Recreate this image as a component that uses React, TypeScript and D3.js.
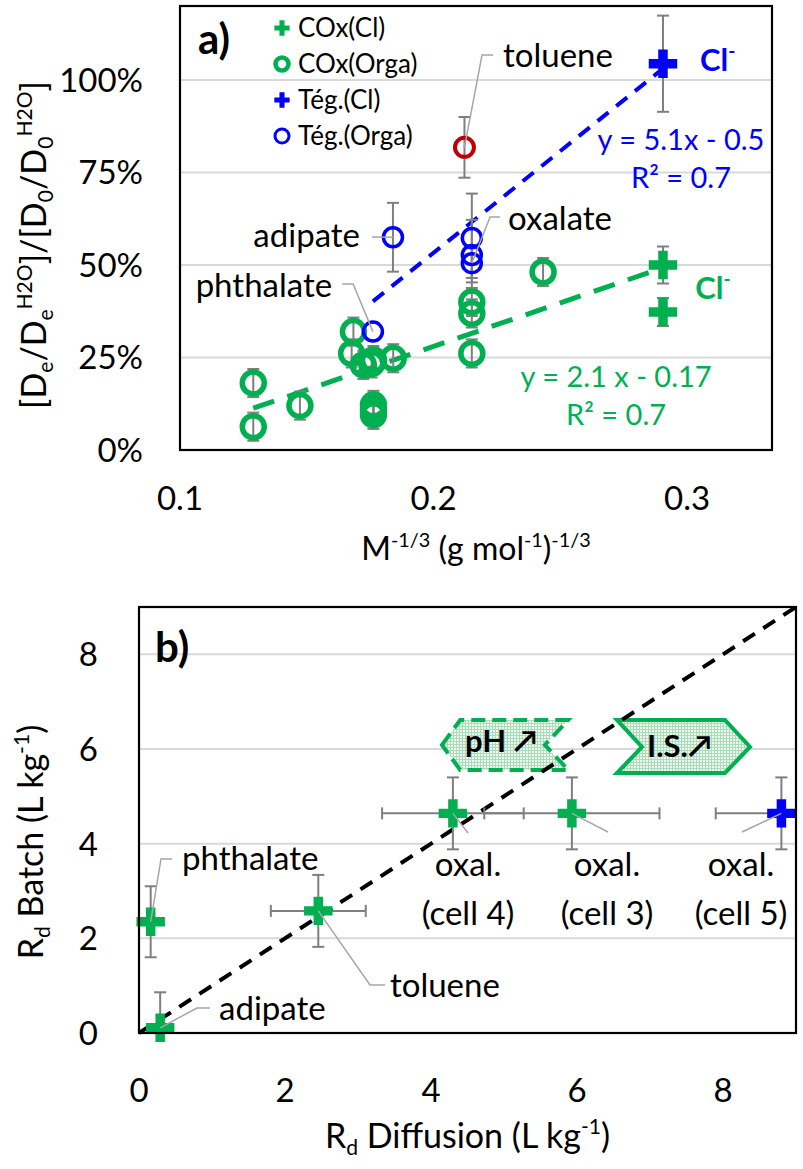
import React from "react";
import * as d3 from "d3";

const W = 803;
const H = 1169;
const FONT = "Lato, 'Open Sans', sans-serif";
const GREEN = "#00b050";
const BLUE = "#0000ff";
const RED = "#c00000";
const ERR = "#7f7f7f";
const LEAD = "#a6a6a6";
const GRID = "#d9d9d9";

// ---- panel a data ----
const aTicksX = [0.1, 0.2, 0.3];
const aTicksY = [0, 0.25, 0.5, 0.75, 1.0];
const aGrid = [0.25, 0.5, 0.75, 1.0];

const coxClX = [0.2905, 0.2905];
const coxClY = [0.5, 0.373];
const coxClErr = [0.05, 0.038];

const coxOrgX = [0.1289, 0.1289, 0.1473, 0.1684, 0.1677, 0.1723, 0.1756, 0.1763, 0.1841, 0.1763, 0.1763, 0.1763, 0.2151, 0.2151, 0.2151, 0.2432];
const coxOrgY = [0.181, 0.063, 0.12, 0.32, 0.261, 0.23, 0.234, 0.243, 0.248, 0.122, 0.108, 0.095, 0.4, 0.369, 0.261, 0.481];
const coxOrgErr = [0.038, 0.038, 0.038, 0.038, 0.038, 0.038, 0.038, 0.038, 0.038, 0.038, 0.038, 0.038, 0.038, 0.038, 0.038, 0.038];

const tegClX = [0.2905];
const tegClY = [1.044];
const tegClErr = [0.13];

const tegOrgX = [0.184, 0.1761, 0.2151, 0.2151, 0.2151];
const tegOrgY = [0.575, 0.32, 0.573, 0.527, 0.505];
const tegOrgErr = [0.093, 0, 0.12, 0.095, 0.04];

const tolX = [0.2122];
const tolY = [0.818];
const tolErr = [0.082];

// trend lines as drawn: [xStart, xEnd, slope, intercept]
const trendBlue = [0.1761, 0.2905, 5.5, -0.567];
const trendGreen = [0.1289, 0.2905, 2.35, -0.19];

const legendNames = ["COx(Cl)", "COx(Orga)", "Tég.(Cl)", "Tég.(Orga)"];

// ---- panel b data ----
const bTicks = [0, 2, 4, 6, 8];
const bGrid = [2, 4, 6, 8];
const bCoxX = [0.16, 0.29, 2.456, 4.3, 5.93];
const bCoxY = [2.35, 0.11, 2.58, 4.64, 4.64];
const bCoxXErr = [0, 0, 0.65, 0.97, 1.2];
const bCoxYErr = [0.75, 0.75, 0.76, 0.76, 0.76];
const bTegX = [8.8];
const bTegY = [4.64];
const bTegXErr = [0.9];
const bTegYErr = [0.76];

// annotation shapes (chart units)
const phShape = [[4.15, 6.085], [4.4, 6.613], [5.88, 6.613], [5.56, 6.085], [5.88, 5.557], [4.4, 5.557]];
const isShape = [[6.548, 6.613], [8.027, 6.613], [8.37, 6.043], [8.027, 5.493], [6.548, 5.493], [6.89, 6.043]];

// scales
const xA = d3.scaleLinear().domain([0.1, 0.3335]).range([180, 772]);
const yA = d3.scaleLinear().domain([0, 1.2]).range([450, 6]);
const xB = d3.scaleLinear().domain([0, 9]).range([139, 796]);
const yB = d3.scaleLinear().domain([0, 9]).range([1033, 607]);

const cross = d3.symbol().type(d3.symbolCross).size(450)();
const crossSmall = d3.symbol().type(d3.symbolCross).size(130)();

function Rich({ x, y, parts, fs, fill = "black", anchor = "start", weight = "normal", transform }) {
  let cur = 0;
  return (
    <text x={x} y={y} fontSize={fs} fill={fill} textAnchor={anchor} fontWeight={weight} transform={transform} fontFamily={FONT}>
      {parts.map(([t, k], i) => {
        const off = k === "sub" ? 0.22 * fs : k === "sup" ? -0.42 * fs : 0;
        const dy = off - cur;
        cur = off;
        return (
          <tspan key={i} dy={dy} fontSize={k === "n" ? fs : fs * 0.62}>
            {t}
          </tspan>
        );
      })}
    </text>
  );
}

function VErr({ x, y, e, sx, sy }) {
  if (!e) return null;
  const px = sx(x);
  const y0 = sy(y - e);
  const y1 = sy(y + e);
  return (
    <g stroke={ERR} strokeWidth={2}>
      <line x1={px} x2={px} y1={y0} y2={y1} />
      <line x1={px - 6} x2={px + 6} y1={y0} y2={y0} />
      <line x1={px - 6} x2={px + 6} y1={y1} y2={y1} />
    </g>
  );
}

function HErr({ x, y, e, sx, sy }) {
  if (!e) return null;
  const py = sy(y);
  const x0 = sx(x - e);
  const x1 = sx(x + e);
  return (
    <g stroke={ERR} strokeWidth={2}>
      <line x1={x0} x2={x1} y1={py} y2={py} />
      <line x1={x0} x2={x0} y1={py - 6} y2={py + 6} />
      <line x1={x1} x2={x1} y1={py - 6} y2={py + 6} />
    </g>
  );
}

function Trend({ t, color, width, dash }) {
  const [x0, x1, m, b] = t;
  const line = d3.line<number>().x((d) => xA(d)).y((d) => yA(m * d + b));
  return <path d={line([x0, x1]) || ""} stroke={color} strokeWidth={width} strokeDasharray={dash} fill="none" />;
}

const labelsA = [
  { text: "toluene", x: 0.2274, y: 1.035, anchor: "start", lead: [[-10, -12], [-21, -12]], tx: tolX[0], ty: tolY[0] },
  { text: "oxalate", x: 0.2294, y: 0.5946, anchor: "start", lead: [[-8, -13], [-18, -13]], tx: tegOrgX[4], ty: tegOrgY[4] },
  { text: "adipate", x: 0.171, y: 0.5486, anchor: "end", lead: [[12, -10]], tx: tegOrgX[0], ty: tegOrgY[0] },
  { text: "phthalate", x: 0.16, y: 0.4135, anchor: "end", lead: [[10, -13], [21, -13]], tx: tegOrgX[1], ty: tegOrgY[1] },
];

const labelsB = [
  { text: ["phthalate"], x: 0.589, y: 3.444, anchor: "start", lead: [[-10, -11], [-21, -11]], tx: bCoxX[0], ty: bCoxY[0] },
  { text: ["adipate"], x: 1.096, y: 0.275, anchor: "start", lead: [[-9, -12], [-22, -12]], tx: bCoxX[1], ty: bCoxY[1] },
  { text: ["toluene"], x: 3.438, y: 0.761, anchor: "start", lead: [[-5, -12], [-20, -12]], tx: bCoxX[2], ty: bCoxY[2] },
  { text: ["oxal.", "(cell 4)"], x: 4.507, y: 3.317, anchor: "middle", lead: [[0, -43]], tx: bCoxX[3], ty: bCoxY[3] },
  { text: ["oxal.", "(cell 3)"], x: 6.411, y: 3.317, anchor: "middle", lead: [[1, -44]], tx: bCoxX[4], ty: bCoxY[4] },
  { text: ["oxal.", "(cell 5)"], x: 8.247, y: 3.317, anchor: "middle", lead: [[1, -44]], tx: bTegX[0], ty: bTegY[0] },
];

function leaderPath(lx, ly, lead, tx, ty) {
  const pts = lead.map(([dx, dy]) => [lx + dx, ly + dy]);
  pts.push([tx, ty]);
  return d3.line()(pts as [number, number][]) || "";
}

export default function App() {
  const LFS = 33;
  const [ax0, ax1] = xA.range();
  const [ay0, ay1] = yA.range();
  const [bx0, bx1] = xB.range();
  const [by0, by1] = yB.range();
  const legendY = [28, 64, 100, 136];

  return (
    <svg width={W} height={H} style={{ position: "absolute", left: 0, top: 0, background: "white" }} fontFamily={FONT}>
      <defs>
        <pattern id="dots" width={3} height={3} patternUnits="userSpaceOnUse">
          <rect width={3} height={3} fill="#eef8f1" />
          <rect width={1} height={3} fill="#a9dcb8" />
          <rect width={3} height={1} fill="#a9dcb8" />
        </pattern>
        <clipPath id="clipA">
          <rect x={ax0} y={ay1} width={ax1 - ax0} height={ay0 - ay1} />
        </clipPath>
        <clipPath id="clipB">
          <rect x={bx0} y={by1} width={bx1 - bx0} height={by0 - by1} />
        </clipPath>
      </defs>

      {/* ===== panel a ===== */}
      {aGrid.map((v) => (
        <line key={v} x1={ax0} x2={ax1} y1={yA(v)} y2={yA(v)} stroke={GRID} strokeWidth={2} />
      ))}
      {aTicksY.map((v) => (
        <text key={v} x={ax0 - 37} y={yA(v)} dy="0.36em" textAnchor="end" fontSize={LFS}>
          {d3.format(".0%")(v)}
        </text>
      ))}
      {aTicksX.map((v) => (
        <text key={v} x={xA(v)} y={ay0 + 48} dy="0.36em" textAnchor="middle" fontSize={LFS}>
          {d3.format(".1f")(v)}
        </text>
      ))}

      <Trend t={trendBlue} color={BLUE} width={4} dash="14 10" />
      <Trend t={trendGreen} color={GREEN} width={5} dash="22 14" />

      <g clipPath="url(#clipA)">
        {coxOrgX.map((x, i) => (
          <VErr key={"ce" + i} x={x} y={coxOrgY[i]} e={coxOrgErr[i]} sx={xA} sy={yA} />
        ))}
        {tegOrgX.map((x, i) => (
          <VErr key={"te" + i} x={x} y={tegOrgY[i]} e={tegOrgErr[i]} sx={xA} sy={yA} />
        ))}
        {tolX.map((x, i) => (
          <VErr key={"to" + i} x={x} y={tolY[i]} e={tolErr[i]} sx={xA} sy={yA} />
        ))}
        {coxClX.map((x, i) => (
          <VErr key={"cc" + i} x={x} y={coxClY[i]} e={coxClErr[i]} sx={xA} sy={yA} />
        ))}
        {tegClX.map((x, i) => (
          <VErr key={"tc" + i} x={x} y={tegClY[i]} e={tegClErr[i]} sx={xA} sy={yA} />
        ))}
      </g>

      {coxOrgX.map((x, i) => (
        <circle key={"co" + i} cx={xA(x)} cy={yA(coxOrgY[i])} r={11} fill="none" stroke={GREEN} strokeWidth={5.5} />
      ))}
      {tegOrgX.map((x, i) => (
        <circle key={"to" + i} cx={xA(x)} cy={yA(tegOrgY[i])} r={9.5} fill="none" stroke={BLUE} strokeWidth={3.5} />
      ))}
      {tolX.map((x, i) => (
        <circle key={"tl" + i} cx={xA(x)} cy={yA(tolY[i])} r={9.5} fill="none" stroke={RED} strokeWidth={4} />
      ))}
      {coxClX.map((x, i) => (
        <path key={"cx" + i} d={cross} transform={`translate(${xA(x)},${yA(coxClY[i])})`} fill={GREEN} />
      ))}
      {tegClX.map((x, i) => (
        <path key={"tx" + i} d={cross} transform={`translate(${xA(x)},${yA(tegClY[i])})`} fill={BLUE} />
      ))}

      {labelsA.map((l) => (
        <g key={l.text}>
          <path d={leaderPath(xA(l.x), yA(l.y), l.lead, xA(l.tx), yA(l.ty))} stroke={LEAD} strokeWidth={1.5} fill="none" />
          <text x={xA(l.x)} y={yA(l.y)} textAnchor={l.anchor} fontSize={LFS}>
            {l.text}
          </text>
        </g>
      ))}

      <Rich x={xA(0.3051)} y={yA(1.0243)} fs={31} fill={BLUE} weight="bold" parts={[["Cl", "n"], ["-", "sup"]]} />
      <Rich x={xA(0.3032)} y={yA(0.408)} fs={31} fill={GREEN} weight="bold" parts={[["Cl", "n"], ["-", "sup"]]} />

      <text x={xA(0.2976)} y={yA(0.8108)} textAnchor="middle" fontSize={29} fill={BLUE}>y = 5.1x - 0.5</text>
      <text x={xA(0.2976)} y={yA(0.708)} textAnchor="middle" fontSize={29} fill={BLUE}>R² = 0.7</text>
      <text x={xA(0.272)} y={yA(0.17)} textAnchor="middle" fontSize={29} fill={GREEN}>y = 2.1 x - 0.17</text>
      <text x={xA(0.272)} y={yA(0.0676)} textAnchor="middle" fontSize={29} fill={GREEN}>R² = 0.7</text>

      {/* legend */}
      {legendNames.map((n, i) => {
        const cy = legendY[i];
        const col = i < 2 ? GREEN : BLUE;
        return (
          <g key={n}>
            {i % 2 === 0 ? (
              <path d={crossSmall} transform={`translate(282,${cy})`} fill={col} />
            ) : (
              <circle cx={282} cy={cy} r={i === 1 ? 6.5 : 7} fill="none" stroke={col} strokeWidth={i === 1 ? 4.5 : 3} />
            )}
            <text x={298} y={cy} dy="0.36em" fontSize={26}>{n}</text>
          </g>
        );
      })}

      <text x={198} y={54} fontSize={42} fontWeight="bold">a)</text>

      <rect x={ax0} y={ay1} width={ax1 - ax0} height={ay0 - ay1} fill="none" stroke="black" strokeWidth={2.2} />

      <Rich
        x={(ax0 + ax1) / 2}
        y={560}
        fs={32}
        anchor="middle"
        parts={[["M", "n"], ["-1/3", "sup"], [" (g mol", "n"], ["-1", "sup"], [")", "n"], ["-1/3", "sup"]]}
      />
      <Rich
        x={0}
        y={0}
        fs={34}
        anchor="middle"
        transform="translate(46,245) rotate(-90)"
        parts={[["[D", "n"], ["e", "sub"], ["/D", "n"], ["e", "sub"], ["H2O", "sup"], ["]/[D", "n"], ["0", "sub"], ["/D", "n"], ["0", "sub"], ["H2O", "sup"], ["]", "n"]]}
      />

      {/* ===== panel b ===== */}
      {bGrid.map((v) => (
        <line key={v} x1={bx0} x2={bx1} y1={yB(v)} y2={yB(v)} stroke={GRID} strokeWidth={2} />
      ))}
      {bTicks.map((v) => (
        <text key={"y" + v} x={bx0 - 41} y={yB(v)} dy="0.36em" textAnchor="end" fontSize={LFS}>{v}</text>
      ))}
      {bTicks.map((v) => (
        <text key={"x" + v} x={xB(v)} y={by0 + 57} dy="0.36em" textAnchor="middle" fontSize={LFS}>{v}</text>
      ))}

      <polygon points={phShape.map(([x, y]) => `${xB(x)},${yB(y)}`).join(" ")} fill="url(#dots)" stroke={GREEN} strokeWidth={4} strokeDasharray="14 7" />
      <polygon points={isShape.map(([x, y]) => `${xB(x)},${yB(y)}`).join(" ")} fill="url(#dots)" stroke={GREEN} strokeWidth={4} />
      <text x={xB(4.466)} y={yB(5.937)} fontSize={31} fontWeight="bold">pH ↗</text>
      <text x={xB(6.959)} y={yB(5.83)} fontSize={31} fontWeight="bold">I.S.↗</text>

      <path
        d={d3.line()(xB.domain().map((v) => [xB(v), yB(v)] as [number, number])) || ""}
        stroke="black"
        strokeWidth={4}
        strokeDasharray="14 10"
        fill="none"
      />

      <g clipPath="url(#clipB)">
        {bCoxX.map((x, i) => (
          <g key={"be" + i}>
            <HErr x={x} y={bCoxY[i]} e={bCoxXErr[i]} sx={xB} sy={yB} />
            <VErr x={x} y={bCoxY[i]} e={bCoxYErr[i]} sx={xB} sy={yB} />
          </g>
        ))}
        {bTegX.map((x, i) => (
          <g key={"bt" + i}>
            <HErr x={x} y={bTegY[i]} e={bTegXErr[i]} sx={xB} sy={yB} />
            <VErr x={x} y={bTegY[i]} e={bTegYErr[i]} sx={xB} sy={yB} />
          </g>
        ))}
      </g>
      {bCoxX.map((x, i) => (
        <path key={"bc" + i} d={cross} transform={`translate(${xB(x)},${yB(bCoxY[i])})`} fill={GREEN} />
      ))}
      {bTegX.map((x, i) => (
        <path key={"bb" + i} d={cross} transform={`translate(${xB(x)},${yB(bTegY[i])})`} fill={BLUE} />
      ))}

      {labelsB.map((l) => (
        <g key={l.text.join()}>
          <path d={leaderPath(xB(l.x), yB(l.y), l.lead, xB(l.tx), yB(l.ty))} stroke={LEAD} strokeWidth={1.5} fill="none" />
          {l.text.map((t, j) => (
            <text key={t} x={xB(l.x)} y={yB(l.y) + j * 49} textAnchor={l.anchor} fontSize={LFS}>{t}</text>
          ))}
        </g>
      ))}

      <text x={155} y={662} fontSize={42} fontWeight="bold">b)</text>

      <rect x={bx0} y={by1} width={bx1 - bx0} height={by0 - by1} fill="none" stroke="black" strokeWidth={2.2} />

      <Rich
        x={(bx0 + bx1) / 2}
        y={1148}
        fs={34}
        anchor="middle"
        parts={[["R", "n"], ["d", "sub"], [" Diffusion (L kg", "n"], ["-1", "sup"], [")", "n"]]}
      />
      <Rich
        x={0}
        y={0}
        fs={34}
        anchor="middle"
        transform="translate(43,842) rotate(-90)"
        parts={[["R", "n"], ["d", "sub"], [" Batch (L kg", "n"], ["-1", "sup"], [")", "n"]]}
      />
    </svg>
  );
}
